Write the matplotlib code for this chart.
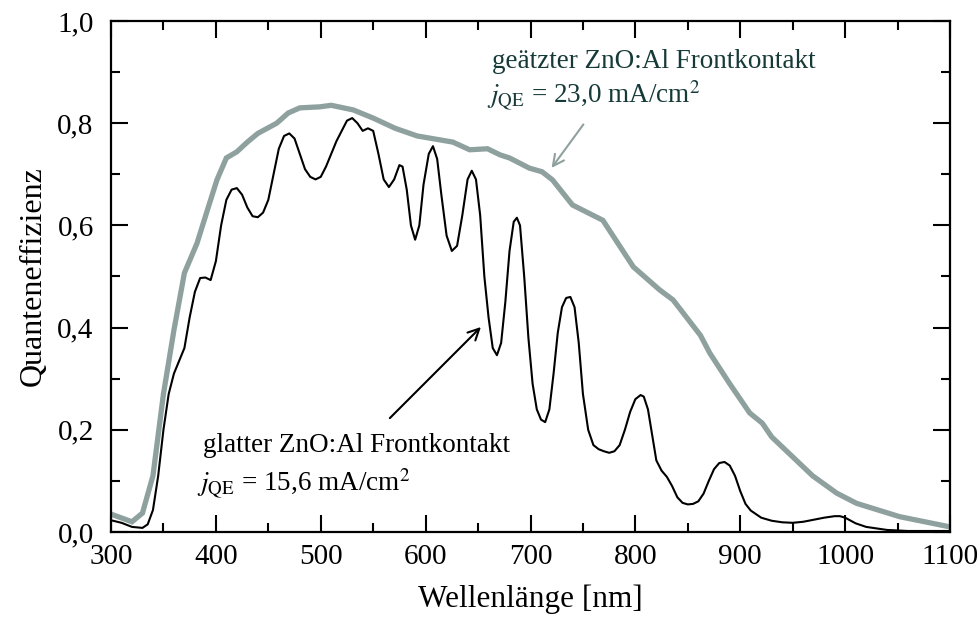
import matplotlib
matplotlib.use("Agg")
import matplotlib.pyplot as plt
from matplotlib.ticker import MultipleLocator, FixedLocator

plt.rcParams['font.family'] = ['Liberation Serif', 'DejaVu Serif']
plt.rcParams['mathtext.fontset'] = 'stix'

# etched ZnO:Al (grey)
wl_etched = [300, 320, 330, 340, 350, 360, 370, 382, 391, 401, 410, 420, 430, 440, 458, 469,
             480, 499, 510, 531, 550, 571, 592, 626, 642, 659, 671, 680, 699, 711, 721, 740,
             769, 798, 823, 836, 862, 871, 890, 909, 921, 930, 969, 992, 1011, 1052, 1100]
qe_etched = [0.035, 0.02, 0.037, 0.11, 0.27, 0.395, 0.507, 0.565, 0.624, 0.689, 0.732, 0.744,
             0.763, 0.78, 0.80, 0.82, 0.83, 0.832, 0.835, 0.826, 0.81, 0.79, 0.775, 0.763,
             0.748, 0.75, 0.738, 0.732, 0.712, 0.705, 0.689, 0.64, 0.61, 0.519, 0.474, 0.454,
             0.385, 0.35, 0.29, 0.233, 0.213, 0.186, 0.11, 0.076, 0.056, 0.03, 0.01]

# smooth ZnO:Al (black)
wl_smooth = [300, 310, 320, 330, 335, 340, 345, 350, 355, 360, 365, 370, 375, 380, 385, 390,
             395, 400, 405, 410, 415, 420, 425, 430, 435, 440, 445, 450, 455, 460, 465, 470,
             475, 480, 485, 490, 495, 500, 505, 510, 515, 520, 525, 530, 535, 540, 545, 550,
             555, 560, 565, 570, 575, 578, 582, 586, 590, 594, 598, 603, 607, 611, 615, 620,
             625, 630, 635, 640, 644, 648, 652, 656, 660, 664, 668, 672, 676, 680, 684, 687,
             690, 694, 698, 702, 706, 710, 714, 718, 722, 726, 730, 734, 738, 742, 746, 750,
             755, 760, 765, 770, 775, 780, 785, 790, 795, 800, 805, 808, 812, 816, 820, 825,
             830, 835, 840, 845, 850, 855, 860, 865, 870, 875, 880, 885, 890, 895, 900, 905,
             910, 920, 930, 940, 950, 960, 970, 980, 990, 995, 1000, 1010, 1020, 1040, 1060, 1100]
qe_smooth = [0.023, 0.018, 0.01, 0.008, 0.015, 0.043, 0.11, 0.2, 0.27, 0.31, 0.335, 0.36,
             0.42, 0.47, 0.497, 0.498, 0.493, 0.53, 0.6, 0.65, 0.67, 0.673, 0.66, 0.635,
             0.618, 0.616, 0.625, 0.65, 0.7, 0.75, 0.775, 0.78, 0.77, 0.74, 0.71, 0.695,
             0.69, 0.695, 0.715, 0.74, 0.765, 0.785, 0.805, 0.81, 0.8, 0.785, 0.79, 0.785,
             0.74, 0.69, 0.675, 0.69, 0.718, 0.715, 0.67, 0.6, 0.572, 0.6, 0.68, 0.74,
             0.755, 0.73, 0.66, 0.58, 0.55, 0.56, 0.62, 0.69, 0.707, 0.69, 0.62, 0.5,
             0.42, 0.36, 0.346, 0.37, 0.45, 0.55, 0.607, 0.615, 0.6, 0.5, 0.38, 0.29,
             0.24, 0.22, 0.215, 0.24, 0.31, 0.39, 0.44, 0.458, 0.46, 0.44, 0.37, 0.27,
             0.2, 0.17, 0.162, 0.158, 0.155, 0.158, 0.17, 0.2, 0.235, 0.26, 0.268, 0.265,
             0.24, 0.19, 0.14, 0.12, 0.108, 0.09, 0.068, 0.057, 0.054, 0.055, 0.06, 0.075,
             0.1, 0.123, 0.135, 0.137, 0.13, 0.11, 0.08, 0.055, 0.042, 0.028, 0.022, 0.019,
             0.018, 0.02, 0.024, 0.028, 0.031, 0.031, 0.028, 0.017, 0.01, 0.004, 0.002, 0.002]

x_ticks = [300, 400, 500, 600, 700, 800, 900, 1000, 1100]
x_ticklabels = ['300', '400', '500', '600', '700', '800', '900', '1000', '1100']
y_ticks = [0.0, 0.2, 0.4, 0.6, 0.8, 1.0]
y_ticklabels = ['0,0', '0,2', '0,4', '0,6', '0,8', '1,0']

grey = '#8fa19f'
teal_text = '#163a38'

fig = plt.figure(figsize=(9.8, 6.17), dpi=100)
ax = fig.add_axes([111/980, 1 - 532/617, 839/980, 511/617])

ax.plot(wl_etched, qe_etched, color=grey, lw=3.8, solid_joinstyle='miter', zorder=2)
ax.plot(wl_smooth, qe_smooth, color='black', lw=1.5, zorder=3,
        solid_joinstyle='round')

ax.set_xlim(300, 1100)
ax.set_ylim(0, 1.0)
ax.xaxis.set_major_locator(FixedLocator(x_ticks))
ax.set_xticklabels(x_ticklabels)
ax.xaxis.set_minor_locator(MultipleLocator(50))
ax.yaxis.set_major_locator(FixedLocator(y_ticks))
ax.set_yticklabels(y_ticklabels)
ax.yaxis.set_minor_locator(MultipleLocator(0.1))

for s in ax.spines.values():
    s.set_linewidth(1.6)
ax.tick_params(which='both', direction='in', top=True, right=True, width=1.5,
               labelsize=21)
ax.tick_params(which='major', length=12)
ax.tick_params(which='minor', length=6.5)
ax.tick_params(axis='y', which='major', pad=12.5)
ax.tick_params(axis='x', which='major', pad=9)

ax.set_xlabel('Wellenlänge [nm]', fontsize=22.5, labelpad=10)
ax.set_ylabel('Quanteneffizienz', fontsize=23, labelpad=7)

# annotations
ax.text(0.454, 0.908, 'geätzter ZnO:Al Frontkontakt', transform=ax.transAxes,
        fontsize=19.5, color=teal_text, va='baseline', ha='left')
ax.text(0.448, 0.838, r'$j_{\mathrm{QE}}$ = 23,0 mA/cm$^2$', transform=ax.transAxes,
        fontsize=19.5, color=teal_text, va='baseline', ha='left')
ax.annotate('', xy=(718.5, 0.708), xytext=(752, 0.802),
            arrowprops=dict(arrowstyle='->', color=grey, lw=1.5, mutation_scale=20))

ax.text(0.1097, 0.157, 'glatter ZnO:Al Frontkontakt', transform=ax.transAxes,
        fontsize=19.5, color='black', va='baseline', ha='left')
ax.text(0.1025, 0.078, r'$j_{\mathrm{QE}}$ = 15,6 mA/cm$^2$', transform=ax.transAxes,
        fontsize=19.5, color='black', va='baseline', ha='left')
ax.annotate('', xy=(654.6, 0.405), xytext=(564, 0.219),
            arrowprops=dict(arrowstyle='->', color='black', lw=1.5, mutation_scale=20))

fig.savefig('out.png', dpi=100)
